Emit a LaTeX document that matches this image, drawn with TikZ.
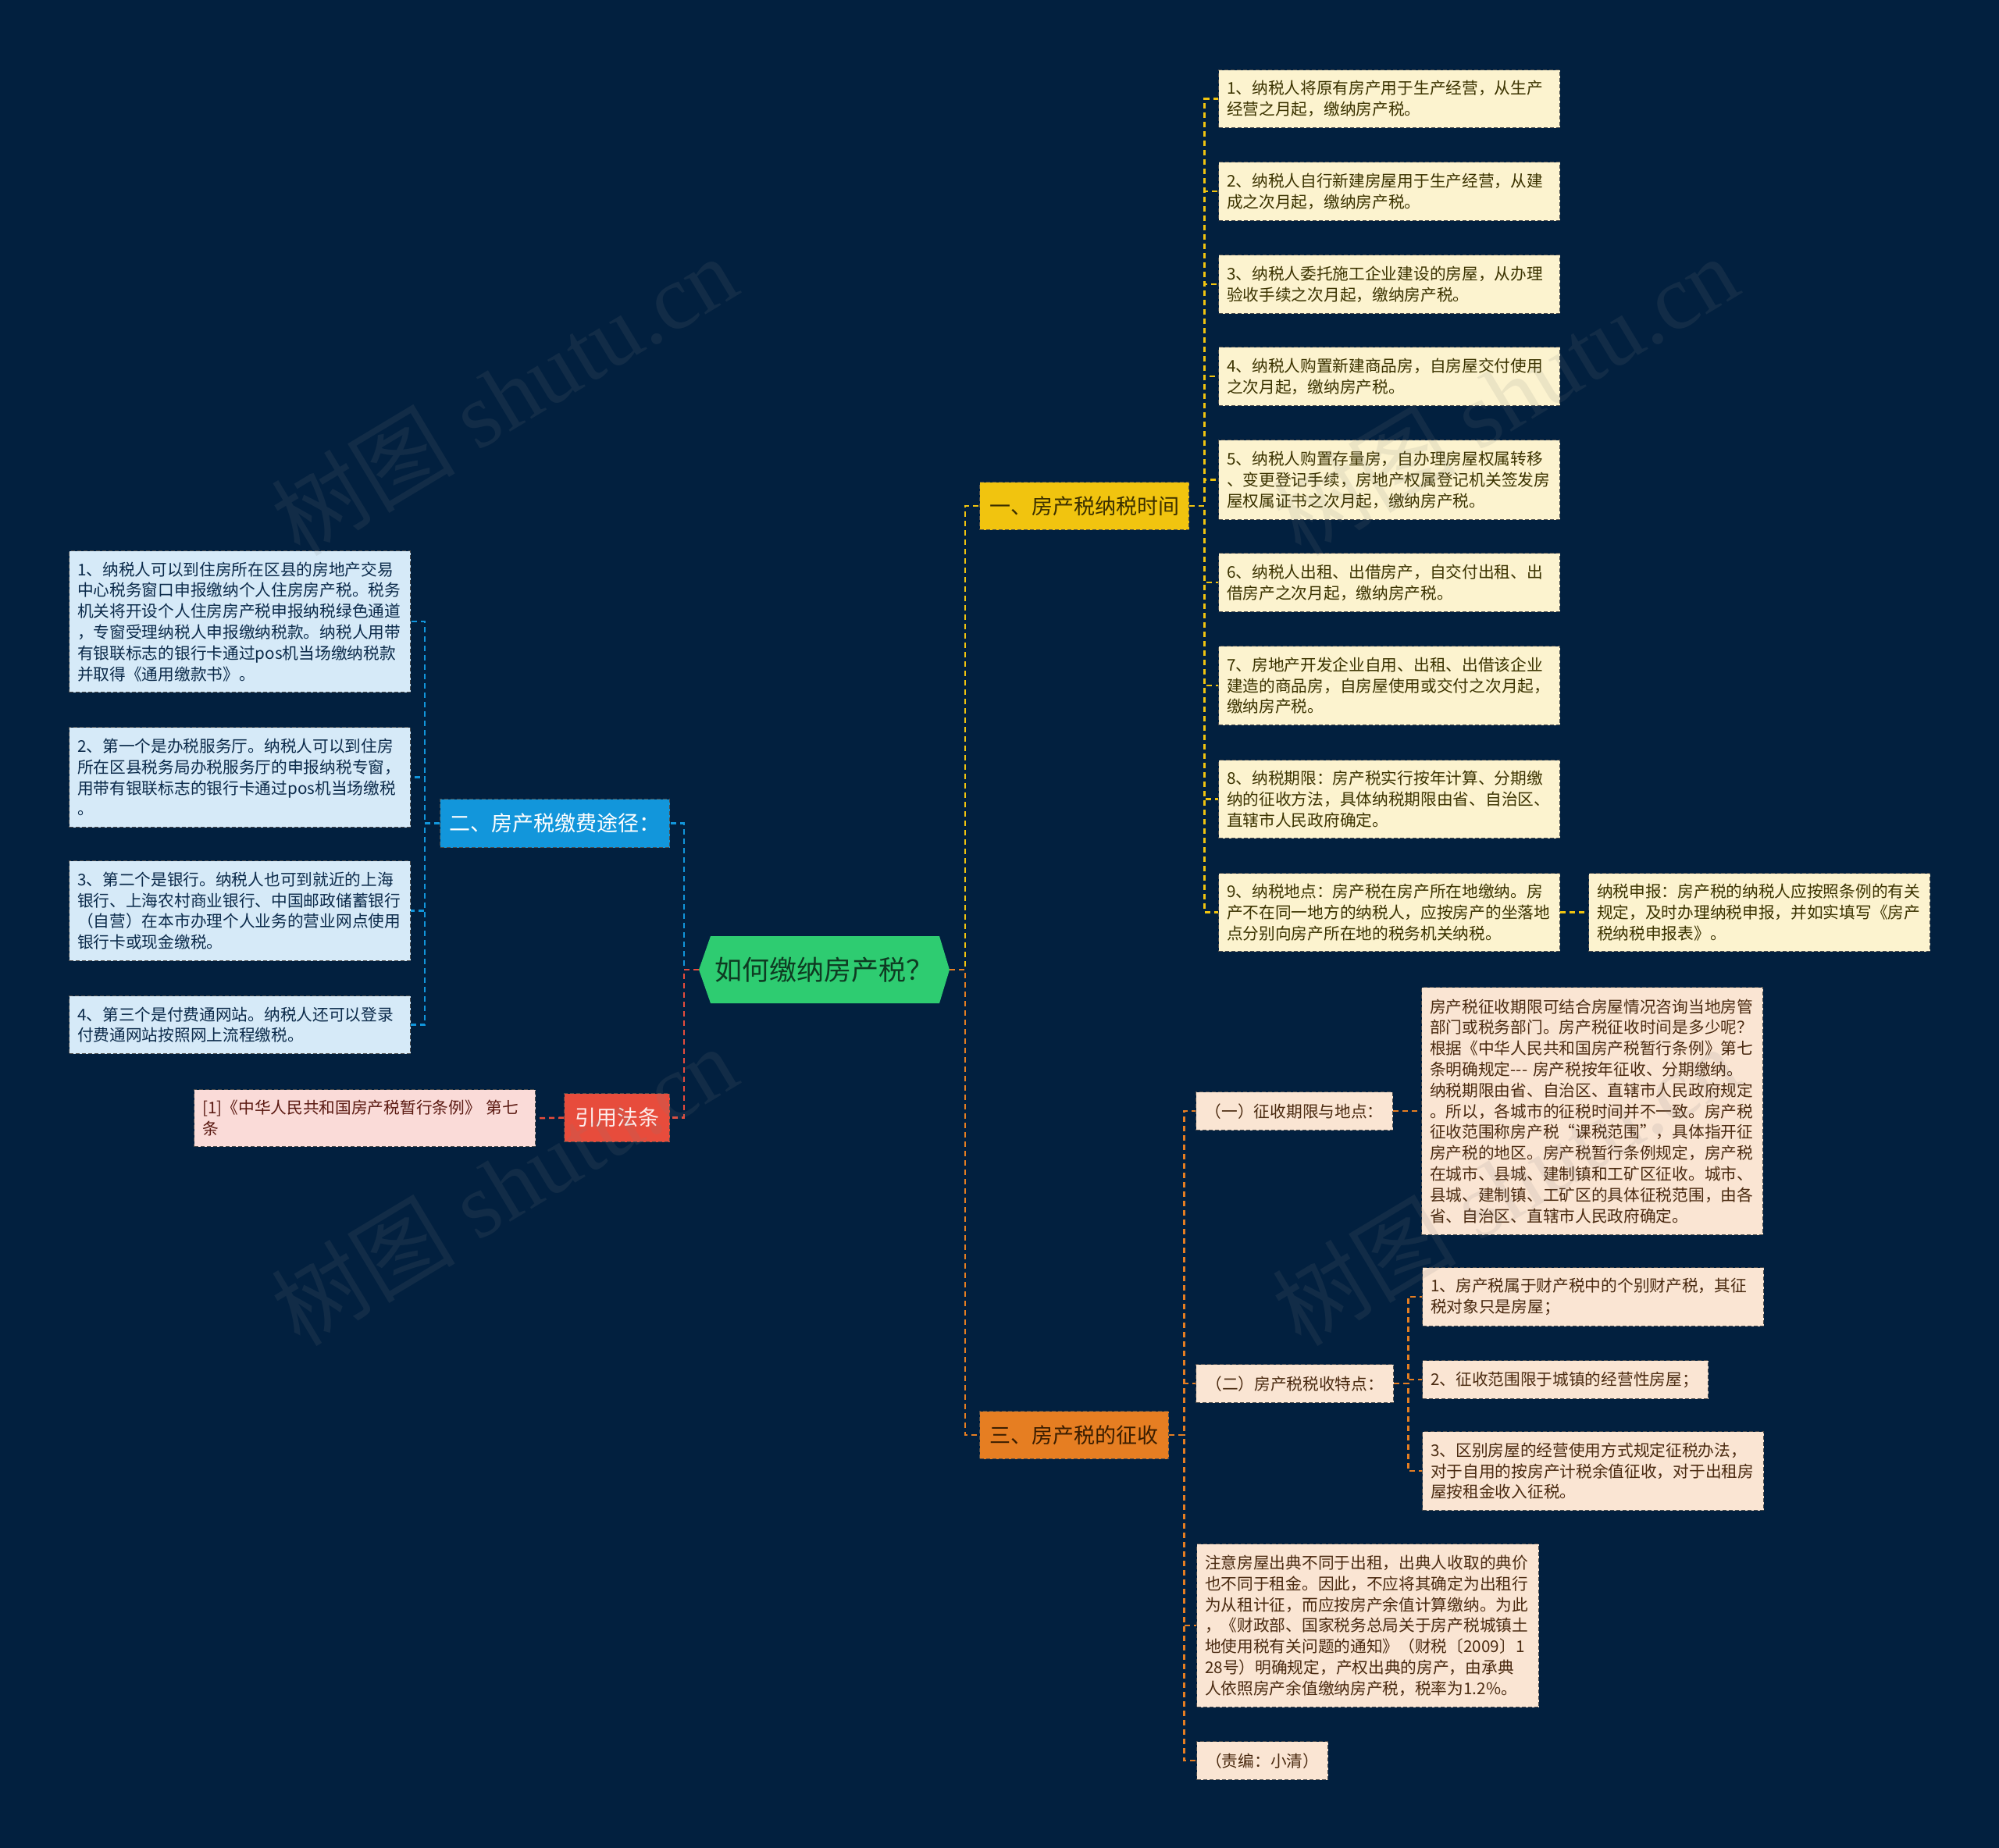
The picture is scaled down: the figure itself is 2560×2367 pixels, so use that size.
\documentclass[tikz,border=0pt]{standalone}
\usepackage{fontspec}
\setmainfont{Noto Sans CJK SC}
\newfontfamily\wmlatin{Liberation Serif}
\definecolor{bg}{HTML}{02203F}
\definecolor{ymain}{HTML}{F1C40F}
\definecolor{yleaf}{HTML}{FCF3CF}
\definecolor{ytext}{HTML}{3B3300}
\definecolor{ymtext}{HTML}{3B2F00}
\definecolor{bmain}{HTML}{1296DB}
\definecolor{bleaf}{HTML}{D6EAF8}
\definecolor{btext}{HTML}{0B2A4A}
\definecolor{rmain}{HTML}{E74C3C}
\definecolor{rleaf}{HTML}{FADBD8}
\definecolor{rtext}{HTML}{5B1A12}
\definecolor{rmtext}{HTML}{FDEDEC}
\definecolor{omain}{HTML}{E67E22}
\definecolor{oleaf}{HTML}{FAE5D3}
\definecolor{otext}{HTML}{4A2A10}
\definecolor{omtext}{HTML}{3A1D00}
\definecolor{gmain}{HTML}{2ECC71}
\definecolor{gtext}{HTML}{0E3B22}
\tikzset{
  boxline/.style={draw=black!70, line width=1.3pt, dash pattern=on 5pt off 3pt},
  leaf/.style={boxline, anchor=north west, inner xsep=10.5pt, inner ysep=0pt,
    text width=416pt, align=left, font=\fontsize{20.7pt}{26.8pt}\selectfont},
  yleafbox/.style={leaf, fill=yleaf, text=ytext},
  bleafbox/.style={leaf, fill=bleaf, text=btext},
  rleafbox/.style={leaf, fill=rleaf, text=rtext},
  oleafbox/.style={leaf, fill=oleaf, text=otext},
  mainbox/.style={boxline, anchor=north west, inner sep=0pt, align=center,
    font=\fontsize{27pt}{32pt}\selectfont},
  subbox/.style={boxline, anchor=north west, inner sep=0pt, align=center,
    fill=oleaf, text=otext, font=\fontsize{20.7pt}{26.8pt}\selectfont},
  conn/.style={line width=2.5pt, dash pattern=on 7pt off 5pt},
  wm/.style={text=gray, text opacity=0.13, rotate=31,
    font=\fontsize{118pt}{118pt}\selectfont}
}
\begin{document}
\begin{tikzpicture}[x=1pt,y=-1pt]
\useasboundingbox (0,0) rectangle (2560,2367);
\fill[bg] (0,0) rectangle (2560,2367);

% root
\fill[gmain] (895,1242) -- (910,1199) -- (1203,1199) -- (1216,1242) -- (1203,1285) -- (910,1285) -- cycle;
\node[inner sep=0pt, minimum width=321pt, minimum height=86pt, text=gtext,
  font=\fontsize{35pt}{40pt}\selectfont] (root) at (1055.5,1242) {如何缴纳房产税？};

% branch 1 (yellow)
\node[mainbox, fill=ymain, text=ymtext, minimum width=268pt, minimum height=61pt] (y1m) at (1254,617) {一、房产税纳税时间};
\node[yleafbox, minimum height=74pt] (ya) at (1560,89) {1、纳税人将原有房产用于生产经营，从生产\\经营之月起，缴纳房产税。};
\node[yleafbox, minimum height=75pt] (yb) at (1560,207) {2、纳税人自行新建房屋用于生产经营，从建\\成之次月起，缴纳房产税。};
\node[yleafbox, minimum height=75pt] (yc) at (1560,326) {3、纳税人委托施工企业建设的房屋，从办理\\验收手续之次月起，缴纳房产税。};
\node[yleafbox, minimum height=75pt] (yd) at (1560,444) {4、纳税人购置新建商品房，自房屋交付使用\\之次月起，缴纳房产税。};
\node[yleafbox, minimum height=102pt] (ye) at (1560,563) {5、纳税人购置存量房，自办理房屋权属转移\\、变更登记手续，房地产权属登记机关签发房\\屋权属证书之次月起，缴纳房产税。};
\node[yleafbox, minimum height=75pt] (yf) at (1560,708) {6、纳税人出租、出借房产，自交付出租、出\\借房产之次月起，缴纳房产税。};
\node[yleafbox, minimum height=101pt] (yg) at (1560,827) {7、房地产开发企业自用、出租、出借该企业\\建造的商品房，自房屋使用或交付之次月起，\\缴纳房产税。};
\node[yleafbox, minimum height=100pt] (yh) at (1560,973) {8、纳税期限：房产税实行按年计算、分期缴\\纳的征收方法，具体纳税期限由省、自治区、\\直辖市人民政府确定。};
\node[yleafbox, minimum height=100pt] (yi) at (1560,1118) {9、纳税地点：房产税在房产所在地缴纳。房\\产不在同一地方的纳税人，应按房产的坐落地\\点分别向房产所在地的税务机关纳税。};
\node[yleafbox, minimum height=100pt] (yj) at (2034,1118) {纳税申报：房产税的纳税人应按照条例的有关\\规定，及时办理纳税申报，并如实填写《房产\\税纳税申报表》。};

% branch 2 (blue)
\node[mainbox, fill=bmain, text=white, minimum width=294pt, minimum height=62pt] (b2m) at (563,1023) {二、房产税缴费途径：};
\node[bleafbox, minimum height=181pt] (ba) at (88,705) {1、纳税人可以到住房所在区县的房地产交易\\中心税务窗口申报缴纳个人住房房产税。税务\\机关将开设个人住房房产税申报纳税绿色通道\\，专窗受理纳税人申报缴纳税款。纳税人用带\\有银联标志的银行卡通过pos机当场缴纳税款\\并取得《通用缴款书》。};
\node[bleafbox, minimum height=128pt] (bb) at (88,931) {2、第一个是办税服务厅。纳税人可以到住房\\所在区县税务局办税服务厅的申报纳税专窗，\\用带有银联标志的银行卡通过pos机当场缴税\\。};
\node[bleafbox, minimum height=128pt] (bc) at (88,1102) {3、第二个是银行。纳税人也可到就近的上海\\银行、上海农村商业银行、中国邮政储蓄银行\\（自营）在本市办理个人业务的营业网点使用\\银行卡或现金缴税。};
\node[bleafbox, minimum height=74pt] (bd) at (88,1275) {4、第三个是付费通网站。纳税人还可以登录\\付费通网站按照网上流程缴税。};

% branch 4 (red)
\node[mainbox, fill=rmain, text=rmtext, minimum width=135pt, minimum height=62pt] (rm) at (722,1400) {引用法条};
\node[rleafbox, minimum height=73pt] (rl) at (248,1395) {[1]《中华人民共和国房产税暂行条例》 第七\\条};

% branch 3 (orange)
\node[mainbox, fill=omain, text=omtext, minimum width=242pt, minimum height=61pt] (o3m) at (1254,1807) {三、房产税的征收};
\node[subbox, minimum width=252pt, minimum height=49pt] (os1) at (1531,1398) {（一）征收期限与地点：};
\node[oleafbox, minimum height=317pt] (os1c) at (1820,1264) {房产税征收期限可结合房屋情况咨询当地房管\\部门或税务部门。房产税征收时间是多少呢？\\根据《中华人民共和国房产税暂行条例》第七\\条明确规定-{}-{}- 房产税按年征收、分期缴纳。\\纳税期限由省、自治区、直辖市人民政府规定\\。所以，各城市的征税时间并不一致。房产税\\征收范围称房产税“课税范围”，具体指开征\\房产税的地区。房产税暂行条例规定，房产税\\在城市、县城、建制镇和工矿区征收。城市、\\县城、建制镇、工矿区的具体征税范围，由各\\省、自治区、直辖市人民政府确定。};
\node[subbox, minimum width=253pt, minimum height=49pt] (os2) at (1531,1747) {（二）房产税税收特点：};
\node[oleafbox, minimum height=75pt] (oa) at (1821,1623) {1、房产税属于财产税中的个别财产税，其征\\税对象只是房屋；};
\node[oleafbox, text width=345pt, minimum height=49pt] (ob) at (1821,1742) {2、征收范围限于城镇的经营性房屋；};
\node[oleafbox, minimum height=101pt] (oc) at (1821,1833) {3、区别房屋的经营使用方式规定征税办法，\\对于自用的按房产计税余值征收，对于出租房\\屋按租金收入征税。};
\node[oleafbox, text width=417pt, minimum height=209pt] (on) at (1532,1977) {注意房屋出典不同于出租，出典人收取的典价\\也不同于租金。因此，不应将其确定为出租行\\为从租计征，而应按房产余值计算缴纳。为此\\，《财政部、国家税务总局关于房产税城镇土\\地使用税有关问题的通知》（财税〔2009〕1\\28号）明确规定，产权出典的房产，由承典\\人依照房产余值缴纳房产税，税率为1.2\%。};
\node[subbox, minimum width=168pt, minimum height=49pt] (oz) at (1532,2230) {（责编：小清）};

% connectors
\draw[conn, ymain] (root.east) -- ++(20,0) |- (y1m.west);
\draw[conn, omain] (root.east) -- ++(20,0) |- (o3m.west);
\draw[conn, bmain] (root.west) -- ++(-19,0) |- (b2m.east);
\draw[conn, rmain] (root.west) -- ++(-19,0) |- (rm.east);
\foreach \n in {ya,yb,yc,yd,ye,yf,yg,yh,yi}
  \draw[conn, ymain] (y1m.east) -- ++(19,0) |- (\n.west);
\draw[conn, ymain] (yi.east) -- (yj.west);
\foreach \n in {ba,bb,bc,bd}
  \draw[conn, bmain] (b2m.west) -- ++(-19,0) |- (\n.east);
\draw[conn, rmain] (rm.west) -- (rl.east);
\foreach \n in {os1,os2,on,oz}
  \draw[conn, omain] (o3m.east) -- ++(19,0) |- (\n.west);
\draw[conn, omain] (os1.east) -- (os1c.west);
\foreach \n in {oa,ob,oc}
  \draw[conn, omain] (os2.east) -- ++(18,0) |- (\n.west);

% watermarks
\node[wm] (wm1) at (645,506) {树图{\wmlatin{} shutu.cn}};
\node[wm] (wm2) at (645,1518) {树图{\wmlatin{} shutu.cn}};
\node[wm] (wm3) at (1927,506) {树图{\wmlatin{} shutu.cn}};
\node[wm] (wm4) at (1927,1518) {树图{\wmlatin{} shutu.cn}};
\end{tikzpicture}
\end{document}
